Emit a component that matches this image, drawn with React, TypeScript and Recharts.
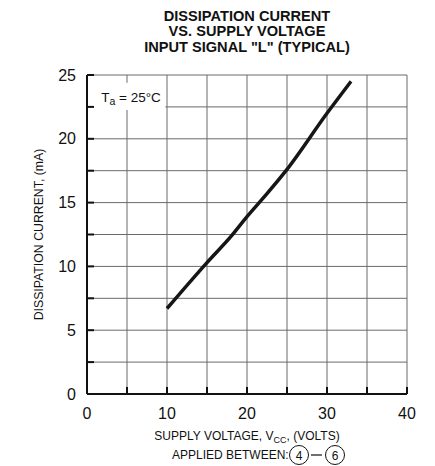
import React from 'react';
import { LineChart, Line, XAxis, YAxis, CartesianGrid, ReferenceArea } from 'recharts';

const supplyVoltage = [10, 15, 18, 20, 22.5, 25, 30, 33];
const dissipationCurrent = [6.7, 10.3, 12.35, 13.9, 15.7, 17.6, 22.0, 24.5];
const xTicks = [0, 5, 10, 15, 20, 25, 30, 35, 40];
const yTicks = [0, 2.5, 5, 7.5, 10, 12.5, 15, 17.5, 20, 22.5, 25];
const titleLines = ['DISSIPATION CURRENT', 'VS. SUPPLY VOLTAGE', 'INPUT SIGNAL "L" (TYPICAL)'];

const data = supplyVoltage.map((v, i) => ({ v, i: dissipationCurrent[i] }));

const FONT = 'Liberation Sans, Arial, Helvetica, sans-serif';

const YLabel = (props: any) => {
  const vb = props.viewBox || {};
  const x = vb.x + 39;
  const y = vb.y + vb.height / 2;
  return (
    <text x={x} y={y} transform={`rotate(-90 ${x} ${y})`} textAnchor="middle" dominantBaseline="central"
      fontFamily={FONT} fontSize={12.3} fill="#111">
      DISSIPATION CURRENT, (mA)
    </text>
  );
};

const XLabel = (props: any) => {
  const vb = props.viewBox || {};
  const cx = vb.x + vb.width / 2;
  const top = vb.y;
  return (
    <g fontFamily={FONT} fontSize={12} fill="#111">
      <text x={cx} y={top + 46} textAnchor="middle">
        SUPPLY VOLTAGE, V<tspan fontSize={9} dy={3}>CC</tspan><tspan dy={-3}>, (VOLTS)</tspan>
      </text>
      <text x={cx - 75} y={top + 65} textAnchor="start">APPLIED BETWEEN:</text>
      <circle cx={cx + 52} cy={top + 61} r={9.5} fill="none" stroke="#111" strokeWidth={1} />
      <text x={cx + 52} y={top + 65.5} textAnchor="middle">4</text>
      <line x1={cx + 64} x2={cx + 75} y1={top + 61} y2={top + 61} stroke="#111" strokeWidth={1.2} />
      <circle cx={cx + 88} cy={top + 61} r={9.5} fill="none" stroke="#111" strokeWidth={1} />
      <text x={cx + 88} y={top + 65.5} textAnchor="middle">6</text>
    </g>
  );
};

const TaLabel = (props: any) => {
  const vb = props.viewBox || {};
  return (
    <text x={vb.x + 13} y={vb.y + 19} fontFamily={FONT} fontSize={13.5} fill="#111">
      T<tspan fontSize={10.5} dy={3}>a</tspan><tspan dy={-3}> = 25°C</tspan>
    </text>
  );
};

export default function App() {
  return (
    <div style={{ position: 'absolute', left: 0, top: 0, width: 435, height: 466, background: '#fff' }}>
      <svg width={435} height={70} style={{ position: 'absolute', left: 0, top: 0 }}>
        {titleLines.map((t, k) => (
          <text key={k} x={247} y={20.5 + k * 15.5} textAnchor="middle" fontFamily={FONT}
            fontWeight="bold" fontSize={14.6} fill="#111">{t}</text>
        ))}
      </svg>
      <div style={{ position: 'absolute', left: 0, top: 0 }}>
        <LineChart width={435} height={466} data={data} margin={{ top: 75, right: 28, left: 0, bottom: 0 }}>
          <CartesianGrid stroke="#6a6a6a" strokeWidth={1} />
          <ReferenceArea x1={0.15} x2={9.8} y1={22.25} y2={24.4} fill="#fff" fillOpacity={1} stroke="none"
            ifOverflow="visible" label={<TaLabel />} />
          <XAxis dataKey="v" type="number" domain={[0, 40]} ticks={xTicks} interval={0}
            tickFormatter={(v: number) => (v % 10 === 0 ? String(v) : '')}
            height={72} tickSize={-7} tickMargin={21}
            axisLine={{ stroke: '#111', strokeWidth: 2 }} tickLine={{ stroke: '#111', strokeWidth: 2 }}
            tick={{ fill: '#111', fontSize: 16, fontFamily: FONT }} label={<XLabel />} />
          <XAxis xAxisId="top" orientation="top" dataKey="v" type="number" domain={[0, 40]} ticks={xTicks}
            interval={0} height={0} tickSize={-7} tick={false}
            axisLine={{ stroke: '#111', strokeWidth: 2 }} tickLine={{ stroke: '#111', strokeWidth: 2 }} />
          <YAxis type="number" domain={[0, 25]} ticks={yTicks} interval={0}
            tickFormatter={(v: number) => (v % 5 === 0 ? String(v) : '')}
            width={87} tickSize={-7} tickMargin={18}
            axisLine={{ stroke: '#111', strokeWidth: 2 }} tickLine={{ stroke: '#111', strokeWidth: 2 }}
            tick={{ fill: '#111', fontSize: 16, fontFamily: FONT }} label={<YLabel />} />
          <YAxis yAxisId="right" orientation="right" type="number" domain={[0, 25]} ticks={yTicks}
            interval={0} width={0} tickSize={-7} tick={false}
            axisLine={{ stroke: '#111', strokeWidth: 2 }} tickLine={{ stroke: '#111', strokeWidth: 2 }} />
          <Line type="monotone" dataKey="i" stroke="#161616" strokeWidth={3.5} dot={false}
            activeDot={false} isAnimationActive={false} />
        </LineChart>
      </div>
    </div>
  );
}
